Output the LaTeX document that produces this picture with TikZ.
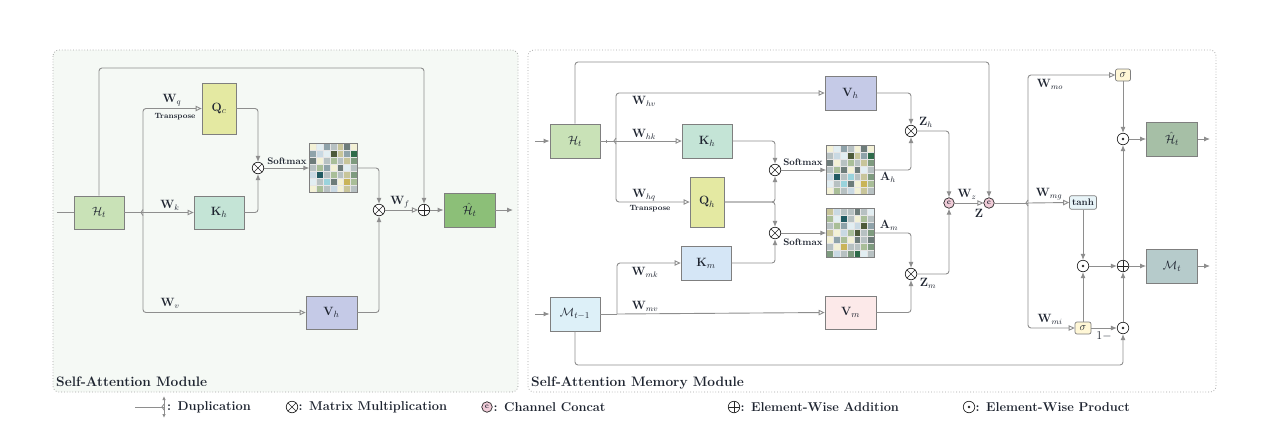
\documentclass[tikz,border=0pt]{standalone}
\usetikzlibrary{arrows.meta,calc}
\definecolor{boxc}{HTML}{7F7F7F}
\definecolor{linec}{HTML}{8E8E8E}
\definecolor{txt}{HTML}{1E2430}
\definecolor{leftbg}{HTML}{F5F9F5}
\definecolor{cHt}{HTML}{C9E2B7}
\definecolor{cQ}{HTML}{E4E9A2}
\definecolor{cK}{HTML}{C4E4D6}
\definecolor{cV}{HTML}{C5CAE7}
\definecolor{cHo}{HTML}{8CBF78}
\definecolor{cKm}{HTML}{D5E6F6}
\definecolor{cMem}{HTML}{DDF0F8}
\definecolor{cVm}{HTML}{FCE9E9}
\definecolor{cHr}{HTML}{A6BFA6}
\definecolor{cMt}{HTML}{B6CBCB}
\definecolor{cSig}{HTML}{FFF7D6}
\definecolor{cTanh}{HTML}{E8F4F8}
\definecolor{cCat}{HTML}{F0CCD8}
\definecolor{gc0}{HTML}{F3F1D6}
\definecolor{gc1}{HTML}{C9D9E3}
\definecolor{gc2}{HTML}{8FA3AA}
\definecolor{gc3}{HTML}{6D7C7A}
\definecolor{gc4}{HTML}{4E5A3A}
\definecolor{gc5}{HTML}{A9BE98}
\definecolor{gc6}{HTML}{C8C59A}
\definecolor{gc7}{HTML}{2E6B4A}
\definecolor{gc8}{HTML}{215A62}
\definecolor{gc9}{HTML}{9AD3DC}
\definecolor{gc10}{HTML}{C9B45A}
\definecolor{gc11}{HTML}{E2EEF2}
\definecolor{gc12}{HTML}{B7C1C2}
\definecolor{gc13}{HTML}{7E9B7F}
\newcommand\mygrid[2]{%
  \foreach [count=\j from 0] \rw in {#2} {%
    \foreach [count=\i from 0] \c in \rw {%
      \fill[gc\c, draw=white!80!gray, line width=0.3pt] ($(#1.north west)+(\i*6.857,\j*7)$) rectangle ++(6.857,7);
    }%
  }%
  \draw[boxc, line width=0.6pt] (#1.north west) rectangle (#1.south east);
}
\tikzset{
  box/.style={draw=boxc, line width=0.8pt, inner sep=0pt, font=\fontsize{12.5}{14}\selectfont, text=txt},
  gridn/.style={minimum width=48pt, minimum height=49pt, inner sep=0pt},
  cn/.style={draw=linec, line width=0.9pt, rounded corners=3pt},
  fa/.style={cn, -{Latex[length=6pt,width=5pt]}},
  oa/.style={cn, -{Triangle[open,length=6pt,width=5.5pt]}},
  opc/.style={circle, draw=black!85, line width=0.7pt, minimum size=11.5pt, inner sep=0pt, fill=white},
  otimes/.style={opc, path picture={\draw[black!85, line width=0.6pt] (path picture bounding box.north west)--(path picture bounding box.south east) (path picture bounding box.north east)--(path picture bounding box.south west);}},
  oplus/.style={opc, path picture={\draw[black!85, line width=0.6pt] (path picture bounding box.north)--(path picture bounding box.south) (path picture bounding box.east)--(path picture bounding box.west);}},
  odot/.style={opc, path picture={\fill[black!85] (path picture bounding box.center) circle (1.3pt);}},
  ocat/.style={circle, draw=black!85, line width=0.7pt, minimum size=10.5pt, inner sep=0pt, fill=cCat, font=\bfseries\fontsize{7.5}{8}\selectfont, text=txt},
  small/.style={draw=boxc, line width=0.7pt, rounded corners=2pt, inner sep=0pt, text=txt},
  wl/.style={font=\fontsize{11.5}{13}\selectfont, text=txt, inner sep=1pt},
  sm/.style={font=\bfseries\fontsize{9.5}{11}\selectfont, text=txt, inner sep=1pt},
  tp/.style={font=\bfseries\fontsize{7.6}{9}\selectfont, text=txt, inner sep=1pt},
  ttl/.style={font=\bfseries\fontsize{13.7}{16}\selectfont, text=txt, inner sep=0pt},
  lg/.style={font=\bfseries\fontsize{12.8}{14}\selectfont, text=txt, inner sep=1pt, anchor=west},
}
\begin{document}
\begin{tikzpicture}[x=1pt,y=-1pt]
\useasboundingbox (0,0) rectangle (1285,432);
\fill[white] (0,0) rectangle (1285,432);
% panels
\draw[gray!70, dotted, line width=0.8pt, rounded corners=6pt, fill=leftbg] (53,50) rectangle (518,392);
\draw[gray!70, dotted, line width=0.8pt, rounded corners=6pt] (528,50) rectangle (1216,392);
\node[ttl, anchor=base west] (t1) at (56,386) {Self-Attention Module};
\node[ttl, anchor=base west] (t2) at (531,386) {Self-Attention Memory Module};

% ===== Left module =====
\node[box, fill=cHt, minimum width=50pt, minimum height=33pt] (Lh) at (99,212.5) {$\mathcal{H}_t$};
\node[box, fill=cQ, minimum width=34pt, minimum height=51pt] (Lq) at (219,108.5) {$\mathbf{Q}_c$};
\node[box, fill=cK, minimum width=50pt, minimum height=33pt] (Lk) at (219,212.5) {$\mathbf{K}_h$};
\node[box, fill=cV, minimum width=51pt, minimum height=33pt] (Lv) at (331.5,312.5) {$\mathbf{V}_h$};
\node[box, fill=cHo, minimum width=51pt, minimum height=34pt] (Lo) at (469.5,210) {$\hat{\mathcal{H}}_t$};
\node[otimes] (Lm1) at (258,168) {};
\node[otimes] (Lm2) at (379,210) {};
\node[oplus] (Lp) at (424,210) {};
\node[gridn] (Lg) at (333.5,168) {};
\mygrid{Lg}{{0,11,2,12,6,3,0},{2,1,11,4,6,2,7},{3,0,12,5,12,6,13},{12,5,2,0,3,11,12},{1,8,12,5,12,6,13},{11,12,9,3,0,10,5},{0,5,12,1,0,6,12}}
\coordinate (Lin) at (57,212.5);
\coordinate (Lj) at (143,212.5);
\coordinate (Ltop) at (260,68);
\coordinate (Lout) at (513,210);
\draw[cn] (Lin) -- (Lh.west);
\draw[cn] (Lh.east) -- (Lj);
\draw[cn, rounded corners=0pt] ($(Lj)+(0,-3)$) -- ($(Lj)+(-2,0)$) -- ($(Lj)+(0,3)$);
\draw[oa] (Lj) |- (Lq.west);
\draw[oa] (Lj) -- (Lk.west);
\draw[oa] (Lj) |- (Lv.west);
\node[wl] (lwq) at (172,100) {$\mathbf{W}_q$};
\node[tp] (ltp) at (175,116.5) {Transpose};
\node[wl] (lwk) at (170,205) {$\mathbf{W}_k$};
\node[wl] (lwv) at (170,303) {$\mathbf{W}_v$};
\draw[fa] (Lq.east) -| (Lm1.north);
\draw[fa] (Lk.east) -| (Lm1.south);
\draw[fa] (Lm1.east) -- (Lg.west);
\node[sm] (lsm) at (287,161) {Softmax};
\draw[fa] (Lg.east) -| (Lm2.north);
\draw[fa] (Lv.east) -| (Lm2.south);
\draw[oa] (Lm2.east) -- (Lp.west);
\node[wl] (lwf) at (400,202) {$\mathbf{W}_f$};
\draw[fa] (Lp.east) -- (Lo.west);
\draw[fa] (Lo.east) -- (Lout);
\draw[fa] (Lh.north) |- (Ltop) -| (Lp.north);

% ===== Right module =====
\node[box, fill=cHt, minimum width=50pt, minimum height=34pt] (Rh) at (575,141) {$\mathcal{H}_t$};
\node[box, fill=cV, minimum width=51pt, minimum height=34pt] (Rvh) at (850.5,93) {$\mathbf{V}_h$};
\node[box, fill=cK, minimum width=50pt, minimum height=34pt] (Rkh) at (707,141) {$\mathbf{K}_h$};
\node[box, fill=cQ, minimum width=34pt, minimum height=50pt] (Rqh) at (707,202) {$\mathbf{Q}_h$};
\node[box, fill=cKm, minimum width=50pt, minimum height=34pt] (Rkm) at (706,263) {$\mathbf{K}_m$};
\node[box, fill=cMem, minimum width=50pt, minimum height=34pt] (Rmem) at (575,314) {$\mathcal{M}_{t-1}$};
\node[box, fill=cVm, minimum width=51pt, minimum height=33pt] (Rvm) at (850.5,312.5) {$\mathbf{V}_m$};
\node[otimes] (Rma) at (775,170) {};
\node[otimes] (Rmb) at (775,233) {};
\node[gridn] (Rga) at (850.5,170) {};
\node[gridn] (Rgb) at (850.5,233) {};
\mygrid{Rga}{{0,11,2,12,0,3,0},{12,1,11,4,6,2,7},{3,0,12,5,12,6,13},{12,5,3,0,3,11,12},{1,8,12,9,12,6,13},{11,12,9,3,0,10,5},{0,5,12,1,0,6,12}}
\mygrid{Rgb}{{6,1,12,12,3,12,11},{5,11,8,12,0,5,12},{12,5,2,11,1,4,2},{6,0,1,5,4,12,13},{0,2,5,0,3,12,3},{12,0,10,12,12,5,13},{13,1,12,13,7,11,12}}
\node[otimes] (Rzh) at (911,131) {};
\node[otimes] (Rzm) at (911,274) {};
\node[ocat] (Rc1) at (949,203) {c};
\node[ocat] (Rc2) at (989,203) {c};
\node[small, fill=cSig, minimum width=15pt, minimum height=12pt, font=\fontsize{11}{12}\selectfont] (Rso) at (1123,75) {$\sigma$};
\node[small, fill=cTanh, minimum width=27pt, minimum height=13.5pt, font=\bfseries\fontsize{9.5}{10}\selectfont] (Rtanh) at (1083,202.5) {tanh};
\node[small, fill=cSig, minimum width=16pt, minimum height=12pt, font=\fontsize{11}{12}\selectfont] (Rsi) at (1083,328) {$\sigma$};
\node[odot] (Rd1) at (1123,139) {};
\node[odot] (Rd2) at (1083,266) {};
\node[oplus] (Rp) at (1123,266) {};
\node[odot] (Rd3) at (1123,328) {};
\node[box, fill=cHr, minimum width=51pt, minimum height=34pt] (Rho) at (1172,139) {$\hat{\mathcal{H}}_t$};
\node[box, fill=cMt, minimum width=51pt, minimum height=34pt] (Rmt) at (1172,266) {$\mathcal{M}_t$};
\coordinate (Rin) at (535,141);
\coordinate (Rin2) at (535,314);
\coordinate (Rj) at (616,141);
\coordinate (Rj3) at (617,314);
\coordinate (Rtop) at (800,62);
\coordinate (Rbot) at (800,365);
\coordinate (Rj2) at (1028,203);
\coordinate (Rout1) at (1210,139);
\coordinate (Rout2) at (1210,266);
\draw[fa] (Rin) -- (Rh.west);
\draw[fa] (Rin2) -- (Rmem.west);
\draw[cn] (Rh.east) -- (Rj);
\draw[cn, rounded corners=0pt] ($(Rj)+(0,-3)$) -- ($(Rj)+(-2,0)$) -- ($(Rj)+(0,3)$);
\draw[cn] ($(Rh.east)+(6,-1.5)$) -- ($(Rh.east)+(6,1.5)$);
\draw[oa] (Rj) |- (Rvh.west);
\draw[oa] (Rj) -- (Rkh.west);
\draw[oa] (Rj) |- (Rqh.west);
\node[wl] (rwhv) at (644,101) {$\mathbf{W}_{hv}$};
\node[wl] (rwhk) at (644,134) {$\mathbf{W}_{hk}$};
\node[wl] (rwhq) at (644,195) {$\mathbf{W}_{hq}$};
\node[tp] (rtp) at (650,208.5) {Transpose};
\draw[cn] (Rmem.east) -- (Rj3);
\draw[oa] (Rj3) |- (Rkm.west);
\draw[oa] (Rj3) -- (Rvm.west);
\node[wl] (rwmk) at (645,272) {$\mathbf{W}_{mk}$};
\node[wl] (rwmv) at (645,306) {$\mathbf{W}_{mv}$};
\draw[fa] (Rkh.east) -| (Rma.north);
\draw[fa] (Rqh.east) -| (Rma.south);
\draw[fa] (Rqh.east) -| (Rmb.north);
\draw[fa] (Rkm.east) -| (Rmb.south);
\draw[fa] (Rma.east) -- (Rga.west);
\draw[fa] (Rmb.east) -- (Rgb.west);
\node[sm] (rsm1) at (803,162) {Softmax};
\node[sm] (rsm2) at (803,242) {Softmax};
\draw[fa] (Rvh.east) -| (Rzh.north);
\draw[fa] (Rga.east) -| (Rzh.south);
\draw[fa] (Rgb.east) -| (Rzm.north);
\draw[fa] (Rvm.east) -| (Rzm.south);
\node[wl] (rah) at (888,177) {$\mathbf{A}_h$};
\node[wl] (ram) at (889,225) {$\mathbf{A}_m$};
\node[wl] (rzh) at (926,122) {$\mathbf{Z}_h$};
\node[wl] (rzm) at (928,283) {$\mathbf{Z}_m$};
\draw[fa] (Rzh.east) -| (Rc1.north);
\draw[fa] (Rzm.east) -| (Rc1.south);
\draw[oa] (Rc1.east) -- (Rc2.west);
\node[wl] (rwz) at (967,194) {$\mathbf{W}_z$};
\node[wl] (rz) at (979,213) {$\mathbf{Z}$};
\draw[fa] (Rh.north) |- (Rtop) -| (Rc2.north);
\draw[cn] (Rc2.east) -- (Rj2);
\draw[cn, rounded corners=0pt] ($(Rj2)+(0,-3)$) -- ($(Rj2)+(-2,0)$) -- ($(Rj2)+(0,3)$);
\draw[oa] (Rj2) |- (Rso.west);
\draw[oa] (Rj2) -- (Rtanh.west);
\draw[oa] (Rj2) |- (Rsi.west);
\node[wl] (rwmo) at (1050,84) {$\mathbf{W}_{mo}$};
\node[wl] (rwmg) at (1049,194) {$\mathbf{W}_{mg}$};
\node[wl] (rwmi) at (1050,319) {$\mathbf{W}_{mi}$};
\draw[fa] (Rso.south) -- (Rd1.north);
\draw[fa] (Rd1.east) -- (Rho.west);
\draw[fa] (Rho.east) -- (Rout1);
\draw[fa] (Rtanh.south) -- (Rd2.north);
\draw[fa] (Rsi.north) -- (Rd2.south);
\draw[fa] (Rd2.east) -- (Rp.west);
\draw[fa] (Rp.east) -- (Rmt.west);
\draw[fa] (Rmt.east) -- (Rout2);
\draw[fa] (Rp.north) -- (Rd1.south);
\draw[fa] (Rsi.east) -- (Rd3.west);
\node[wl] (r1m) at (1104,336) {$1-$};
\draw[fa] (Rd3.north) -- (Rp.south);
\draw[fa] (Rmem.south) |- (Rbot) -| (Rd3.south);

% ===== Legend =====
\coordinate (Dl) at (135,407);
\coordinate (Dj) at (164,407);
\coordinate (Du) at (164,396);
\coordinate (Dd) at (164,418);
\draw[cn] (Dl) -- (Dj);
\draw[cn, rounded corners=0pt, {Latex[length=4pt,width=3.5pt]}-{Latex[length=4pt,width=3.5pt]}] (Du) -- (Dd);
\draw[cn, rounded corners=0pt] ($(Dj)+(0,-3)$) -- ($(Dj)+(-2,0)$) -- ($(Dj)+(0,3)$);
\node[lg] (lg1) at (166,407) {: Duplication};
\node[otimes] (lgm) at (292,407) {};
\node[lg] (lg2) at (297.5,407) {: Matrix Multiplication};
\node[ocat] (lgc) at (487,407) {c};
\node[lg] (lg3) at (492.5,407) {: Channel Concat};
\node[oplus] (lgp) at (734,407) {};
\node[lg] (lg4) at (739.5,407) {: Element-Wise Addition};
\node[odot] (lgd) at (969,407) {};
\node[lg] (lg5) at (974.5,407) {: Element-Wise Product};
\end{tikzpicture}
\end{document}
